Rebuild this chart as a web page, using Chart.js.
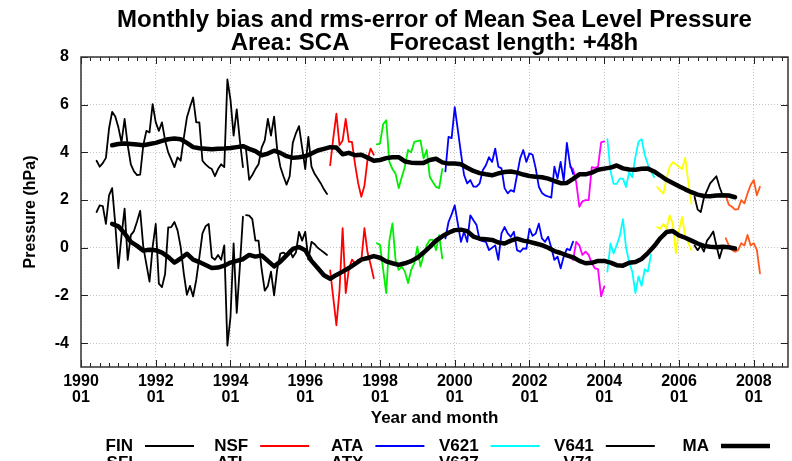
<!DOCTYPE html>
<html>
<head>
<meta charset="utf-8">
<script src="https://cdn.jsdelivr.net/npm/chart.js@4.4.1/dist/chart.umd.min.js"></script>
<style>
  html, body { margin: 0; padding: 0; background: #fff; }
  #wrap { width: 792px; height: 461px; }
</style>
</head>
<body>
<div id="wrap"><canvas id="mslp" width="792" height="461"></canvas></div>
<script>
// x values are months counted from January 1990
const xTickYears = [1990, 1992, 1994, 1996, 1998, 2000, 2002, 2004, 2006, 2008];
const yTicks = [-4, -2, 0, 2, 4, 6, 8];

const modelNames = ["FIN", "SFI", "NSF", "ATL", "ATA", "ATX", "V621", "V637", "V641", "V71"];
const modelStart = [5, 53, 80, 95, 117, 157, 169, 185, 197, 207];

// rms error (hPa)
const finRms = [3.65, 3.4, 3.55, 3.77, 5.0, 5.7, 5.5, 5.05, 4.42, 5.4,
  4.3, 3.5, 3.2, 3.05, 3.07, 4.3, 4.9, 4.84, 6.02, 5.26,
  4.9, 5.26, 4.5, 4.0, 3.7, 3.38, 3.79, 3.65, 4.6, 5.46,
  5.9, 6.3, 5.26, 5.26, 3.65, 3.5, 3.38, 3.3, 3.0, 3.3,
  3.5, 3.38, 7.06, 6.2, 4.7, 5.8, 4.5, 3.38];
const sfiRms = [4.1, 2.85, 3.05, 3.3, 3.5, 4.2, 4.5, 5.4, 4.7, 5.5,
  4.1, 3.4, 3.0, 2.65, 3.0, 4.4, 4.8, 5.1, 4.2, 3.3,
  4.65, 3.4, 3.1, 2.9, 2.7, 2.45, 2.25];
const nsfRms = [3.46, 4.6, 5.62, 4.3, 4.5, 5.4, 4.44, 4.44, 3.5, 2.7, 2.14, 2.6, 3.7, 4.16, 3.9];
const atlRms = [4.34, 4.37, 5.18, 5.35, 3.6, 3.3, 3.1, 2.5, 2.97, 3.4,
  4.1, 4.0, 4.44, 4.47, 4.5, 3.75, 4.1, 2.97, 2.75, 2.55, 2.5, 3.3];
const ataRms = [3.2, 4.65, 4.6, 5.9, 4.93, 3.96, 3.05, 2.7, 2.84, 2.56,
  2.56, 2.7, 3.25, 3.46, 3.8, 3.6, 4.16, 3.4, 3.33, 2.5,
  2.28, 2.42, 2.35, 3.05, 3.75, 4.1, 3.6, 3.96, 3.9, 3.33,
  2.56, 2.3, 2.2, 2.15, 2.1, 3.4, 2.9, 3.6, 2.8, 4.4, 3.5, 3.1];
const atxRms = [3.4, 3.3, 2.75, 1.72, 1.95, 2.0, 2.0, 3.38, 3.35, 3.4, 4.42, 4.46];
const v621Rms = [4.55, 3.24, 2.68, 2.68, 2.9, 2.9, 2.55, 3.17, 2.96, 3.8, 4.45, 4.55, 3.9, 3.5, 3.24, 2.96];
const v637Rms = [2.55, 2.4, 2.27, 2.9, 3.4, 3.59, 3.5, 3.4, 3.3, 3.77, 2.75, 1.85];
const v641Rms = [2.14, 1.6, 1.5, 2.1, 2.4, 2.7, 2.85, 3.0, 2.56, 2.2];
const v71Rms = [2.2, 1.8, 1.72, 1.6, 1.62, 2.0, 1.86, 2.28, 2.63, 2.84, 2.2, 2.56];

// bias (hPa)
const finBias = [1.5, 1.78, 1.75, 1.0, 2.2, 2.5, 1.0, -0.86, 0.5, 1.64,
  -0.51, 0.53, 0.7, 1.1, 1.55, 0.04, -0.7, -1.42, 0.04, 1.0,
  -1.5, -1.65, -1.1, 0.85, 0.87, 1.08, 0.73, 0.04, -1.07, -1.97,
  -1.6, -2.04, -1.35, -0.4, 0.6, 0.9, 1.0, -0.4, -0.5, -0.3,
  -0.5, 0.1, -4.1, -2.9, 0.18, -2.73, -0.8, 1.3];
const sfiBias = [1.37, 1.35, 1.2, 0.3, 0.3, -0.9, -1.8, -1.6, -1.0, -2.0,
  -0.9, -0.24, -0.2, -0.3, -0.1, -0.4, -0.2, 0.67, 0.3, 0.67,
  -0.5, 0.25, 0.15, 0.0, -0.1, -0.2, -0.3];
const nsfBias = [-0.95, -2.1, -3.25, -1.8, 0.82, -1.9, -0.9, -0.5, -0.65, -0.5, -0.55, 0.82, -0.2, -0.7, -1.28];
const atlBias = [0.19, 0.12, -0.9, -1.9, 0.3, 1.02, -0.51, -0.93, -0.79, -1.0,
  -1.48, -0.93, -0.65, 0.05, -0.79, -0.3, 0.12, 0.33, 0.33, -0.1, 0.53, -0.44];
const ataBias = [0.39, 1.08, 1.4, 1.78, 1.0, 0.25, 0.67, 0.25, 1.36, 1.15,
  0.95, 0.32, 0.28, 0.25, -0.1, 0.0, 0.1, -0.51, 0.6, 0.87,
  0.6, 0.46, 0.67, -0.1, -0.17, -0.03, -0.05, 0.8, 0.5, 0.6,
  1.01, 0.39, 0.25, 0.46, 0.0, -0.51, -0.37, -0.86, -0.37, -0.05, -0.1, 0.26];
const atxBias = [-0.4, -0.51, 0.25, 0.1, -0.3, -0.16, -0.3, -0.65, -0.86, -0.9, -2.04, -1.62];
const v621Bias = [-1.0, 0.18, -0.24, 0.11, 0.5, 1.2, 0.0, -0.6, -1.0, -1.9, -1.2, -1.6, -0.9, -1.0, -0.3];
const v637Bias = [0.87, 0.8, 1.0, 0.8, 1.36, 1.0, -0.24, 0.74, 1.29, 0.5, 0.2, -0.1];
const v641Bias = [0.1, -0.1, 0.1, -0.16, 0.3, 0.47, 0.68, 0.1, -0.44, 0.0];
const v71Bias = [0.4, 0.1, -0.09, -0.17, -0.1, 0.19, 0.1, 0.54, 0.1, 0.19, -0.09, -1.07];

// moving averages, every second month from Nov 1990
const maStart = 10;
const maStep = 2;
const rmsMA = [4.3, 4.35, 4.37, 4.35, 4.33, 4.3, 4.35, 4.4, 4.48, 4.55,
  4.58, 4.55, 4.4, 4.22, 4.17, 4.15, 4.13, 4.15, 4.16, 4.18,
  4.22, 4.26, 4.15, 4.05, 3.88, 3.95, 4.07, 3.98, 3.84, 3.77,
  3.8, 3.84, 3.95, 4.08, 4.15, 4.22, 4.2, 3.92, 3.98, 3.88,
  3.9, 3.78, 3.65, 3.68, 3.76, 3.8, 3.8, 3.62, 3.57, 3.55,
  3.56, 3.68, 3.73, 3.58, 3.53, 3.53, 3.5, 3.36, 3.22, 3.13,
  3.08, 3.04, 3.12, 3.18, 3.2, 3.15, 3.07, 3.01, 2.98, 2.96,
  2.9, 2.8, 2.71, 2.72, 2.89, 3.08, 3.08, 3.15, 3.27, 3.32,
  3.36, 3.45, 3.33, 3.28, 3.27, 3.31, 3.32, 3.2, 3.03, 2.85,
  2.72, 2.58, 2.45, 2.33, 2.23, 2.17, 2.16, 2.19, 2.2, 2.19, 2.12];
const biasMA = [1.0, 0.9, 0.6, 0.25, 0.08, -0.12, -0.08, -0.1, -0.2, -0.38,
  -0.62, -0.45, -0.25, -0.5, -0.6, -0.72, -0.85, -0.83, -0.75, -0.62,
  -0.55, -0.48, -0.3, -0.37, -0.32, -0.55, -0.78, -0.58, -0.32, -0.05,
  0.03, -0.1, -0.55, -0.85, -1.15, -1.3, -1.14, -1.0, -0.85, -0.68,
  -0.5, -0.43, -0.35, -0.42, -0.57, -0.65, -0.72, -0.65, -0.56, -0.42,
  -0.2, 0.04, 0.3, 0.48, 0.63, 0.74, 0.76, 0.7, 0.47, 0.38,
  0.36, 0.33, 0.22, 0.18, 0.3, 0.38, 0.3, 0.25, 0.18, 0.11,
  0.0, -0.14, -0.22, -0.32, -0.4, -0.55, -0.65, -0.63, -0.55, -0.55,
  -0.62, -0.73, -0.75, -0.63, -0.6, -0.47, -0.22, 0.06, 0.4, 0.66,
  0.7, 0.52, 0.42, 0.3, 0.18, 0.08, 0.04, 0.02, 0.04, 0.02, -0.03];

const rmsSeries = [finRms, sfiRms, nsfRms, atlRms, ataRms, atxRms, v621Rms, v637Rms, v641Rms, v71Rms];
const biasSeries = [finBias, sfiBias, nsfBias, atlBias, ataBias, atxBias, v621Bias, v637Bias, v641Bias, v71Bias];

const modelColors = ["#000000", "#000000", "#ff0000", "#00ee00", "#0000ff",
  "#ff00ff", "#00ffff", "#ffff00", "#000000", "#ff5a1e"];
const FONT = '"Liberation Sans", Arial, sans-serif';

const toPoints = (values, start, step = 1) =>
  values.map((v, i) => ({ x: start + i * step, y: v }));

const lineStyle = (color, width, order) => ({
  borderColor: color,
  borderWidth: width,
  pointRadius: 0,
  tension: 0,
  fill: false,
  borderJoinStyle: "round",
  borderCapStyle: "round",
  order: order,
});

const datasets = [];
modelNames.forEach((name, i) => {
  datasets.push({ label: name + " rms", data: toPoints(rmsSeries[i], modelStart[i]), ...lineStyle(modelColors[i], 1.8, 2) });
  datasets.push({ label: name + " bias", data: toPoints(biasSeries[i], modelStart[i]), ...lineStyle(modelColors[i], 1.8, 2) });
});
datasets.push({ label: "MA rms", data: toPoints(rmsMA, maStart, maStep), ...lineStyle("#000000", 4.5, 0) });
datasets.push({ label: "MA bias", data: toPoints(biasMA, maStart, maStep), ...lineStyle("#000000", 4.5, 0) });

// titles, inward ticks, frame and the two-row key
const decorations = {
  id: "decorations",
  afterDatasetsDraw(chart) {
    const { ctx, chartArea: a, scales: { x, y } } = chart;
    ctx.save();
    ctx.strokeStyle = "#222";
    ctx.lineWidth = 1;
    ctx.beginPath();
    for (let m = 0; m <= x.max; m += 3) {
      const px = Math.round(x.getPixelForValue(m)) + 0.5;
      const len = m % 24 === 0 ? 7 : 4;
      ctx.moveTo(px, a.bottom); ctx.lineTo(px, a.bottom - len);
      ctx.moveTo(px, a.top); ctx.lineTo(px, a.top + len);
    }
    yTicks.forEach(v => {
      const py = Math.round(y.getPixelForValue(v)) + 0.5;
      ctx.moveTo(a.left, py); ctx.lineTo(a.left + 7, py);
      ctx.moveTo(a.right, py); ctx.lineTo(a.right - 7, py);
    });
    ctx.stroke();
    ctx.strokeStyle = "#333";
    ctx.lineWidth = 1.5;
    ctx.strokeRect(a.left, a.top, a.right - a.left, a.bottom - a.top);
    ctx.restore();
  },
  afterDraw(chart) {
    const { ctx, chartArea: a } = chart;
    const cx = (a.left + a.right) / 2;
    ctx.save();
    ctx.fillStyle = "#000";
    ctx.font = "bold 24px " + FONT;
    ctx.textAlign = "center";
    ctx.textBaseline = "alphabetic";
    ctx.fillText("Monthly bias and rms-error of Mean Sea Level Pressure", cx, 27);
    const part1 = "Area: SCA", part2 = "Forecast length: +48h", gap = 40;
    const w1 = ctx.measureText(part1).width, w2 = ctx.measureText(part2).width;
    const x0 = cx - (w1 + gap + w2) / 2;
    ctx.textAlign = "left";
    ctx.fillText(part1, x0, 50);
    ctx.fillText(part2, x0 + w1 + gap, 50);

    // key: two rows, column by column
    const keys = modelNames.map((n, i) => ({ name: n, color: modelColors[i], width: 1.8 }));
    keys.push({ name: "MA", color: "#000000", width: 4.5 });
    ctx.font = "bold 17px " + FONT;
    ctx.textAlign = "right";
    ctx.textBaseline = "middle";
    keys.forEach((k, i) => {
      const col = Math.floor(i / 2), row = i % 2;
      const tx = 133 + col * 115.2;
      const ty = 446 + row * 17;
      ctx.fillStyle = "#000";
      ctx.fillText(k.name, tx, ty);
      ctx.strokeStyle = k.color;
      ctx.lineWidth = k.width;
      ctx.beginPath();
      ctx.moveTo(tx + 12, ty);
      ctx.lineTo(tx + 61, ty);
      ctx.stroke();
    });
    ctx.restore();
  },
};

new Chart(document.getElementById("mslp"), {
  type: "line",
  data: { datasets },
  options: {
    responsive: false,
    animation: false,
    devicePixelRatio: 1,
    layout: { padding: { top: 57, right: 4, bottom: 31, left: 0 } },
    plugins: { legend: { display: false }, tooltip: { enabled: false }, title: { display: false } },
    scales: {
      x: {
        type: "linear",
        min: 0,
        max: 227,
        afterFit: scale => { scale.height = 63; },
        afterBuildTicks: scale => { scale.ticks = xTickYears.map(yr => ({ value: (yr - 1990) * 12 })); },
        grid: { color: "#c4c4c4", lineWidth: 1, drawTicks: false },
        border: { display: false, dash: [1, 2] },
        ticks: {
          autoSkip: false,
          maxRotation: 0,
          padding: 7,
          color: "#000",
          font: { family: FONT, size: 16, weight: "bold", lineHeight: 1.0 },
          callback: value => [String(1990 + value / 12), "01"],
        },
        title: {
          display: true,
          text: "Year and month",
          color: "#000",
          font: { family: FONT, size: 17, weight: "bold" },
          padding: { top: 0, bottom: 1 },
        },
      },
      y: {
        min: -5,
        max: 8,
        afterFit: scale => { scale.width = 81; },
        afterBuildTicks: scale => { scale.ticks = yTicks.map(v => ({ value: v })); },
        grid: { color: "#c4c4c4", lineWidth: 1, drawTicks: false },
        border: { display: false, dash: [1, 2] },
        ticks: {
          padding: 12,
          color: "#000",
          font: { family: FONT, size: 16, weight: "bold" },
        },
        title: {
          display: true,
          text: "Pressure (hPa)",
          color: "#000",
          font: { family: FONT, size: 16, weight: "bold" },
          padding: { top: 21, bottom: 0 },
        },
      },
    },
  },
  plugins: [decorations],
});
</script>
</body>
</html>
